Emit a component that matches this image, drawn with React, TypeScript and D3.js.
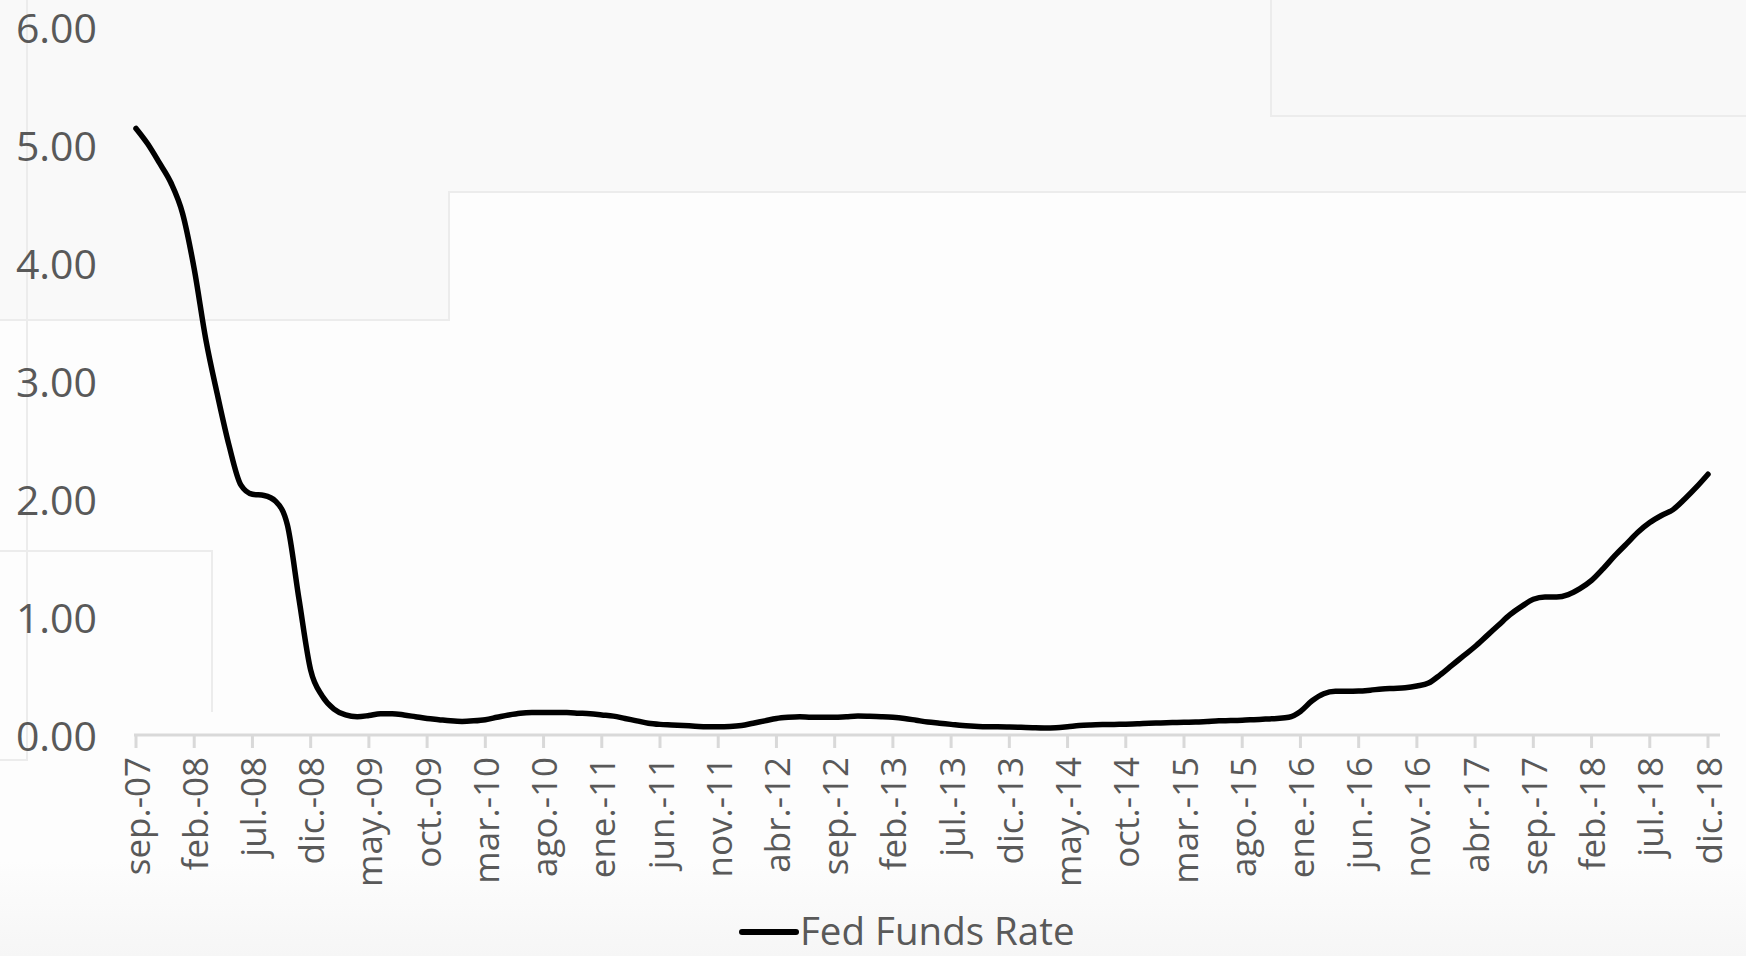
import React from "react";
import * as d3 from "d3";

const months = ["ene.", "feb.", "mar.", "abr.", "may.", "jun.", "jul.", "ago.", "sep.", "oct.", "nov.", "dic."];

const startYear = 2007;
const startMonth = 8; // sep

const fedFunds: number[] = [
  5.14, 5.01, 4.85, 4.68, 4.42, 3.95, 3.35, 2.88, 2.45, 2.12, 2.04, 2.03, 1.98, 1.78, 1.15, 0.55,
  0.33, 0.22, 0.17, 0.155, 0.165, 0.18, 0.18, 0.17, 0.155, 0.14, 0.13, 0.12,
  0.115, 0.12, 0.13, 0.15, 0.17, 0.185, 0.19, 0.19, 0.19, 0.19, 0.185, 0.18,
  0.17, 0.16, 0.14, 0.12, 0.10, 0.09, 0.085, 0.08, 0.075, 0.07, 0.07, 0.072,
  0.08, 0.10, 0.12, 0.14, 0.15, 0.155, 0.15, 0.15, 0.15, 0.155, 0.16, 0.158,
  0.155, 0.15, 0.14, 0.125, 0.11, 0.10, 0.09, 0.08, 0.075, 0.07, 0.07, 0.068,
  0.065, 0.062, 0.06, 0.062, 0.07, 0.08, 0.085, 0.088, 0.09, 0.092, 0.095, 0.10,
  0.102, 0.105, 0.108, 0.11, 0.115, 0.12, 0.122, 0.125, 0.13, 0.135, 0.14, 0.15,
  0.20, 0.29, 0.35, 0.37, 0.37, 0.372, 0.38, 0.39, 0.395, 0.40, 0.415, 0.44,
  0.51, 0.59, 0.67, 0.75, 0.84, 0.93, 1.02, 1.09, 1.15, 1.17, 1.17, 1.19,
  1.24, 1.31, 1.41, 1.52, 1.62, 1.72, 1.80, 1.86, 1.91, 2.00, 2.10, 2.21,
];

const categories: string[] = fedFunds.map((_, i) => {
  const m = (startMonth + i) % 12;
  const y = startYear + Math.floor((startMonth + i) / 12);
  return `${months[m]}-${String(y % 100).padStart(2, "0")}`;
});

const yTicks = [0, 1, 2, 3, 4, 5, 6];
const tickEvery = 5;
const seriesName = "Fed Funds Rate";

const W = 1746;
const H = 956;
const FONT = "'Open Sans', 'Noto Sans', sans-serif";
const TEXT = "#595959";

export default function App() {
  const x = d3.scalePoint<string>().domain(categories).range([136, 1708]);
  const y = d3.scaleLinear().domain([0, 6]).range([735, 27]);

  const line = d3
    .line<number>()
    .x((_, i) => x(categories[i]) as number)
    .y((d) => y(d))
    .curve(d3.curveMonotoneX);

  const tickCats = categories.filter((_, i) => i % tickEvery === 0);

  return (
    <svg
      width={W}
      height={H}
      style={{ position: "absolute", left: 0, top: 0, display: "block" }}
    >
      <defs>
        <linearGradient id="bottomFade" x1="0" y1="0" x2="0" y2="1">
          <stop offset="0" stopColor="#fdfdfd" />
          <stop offset="1" stopColor="#f6f6f6" />
        </linearGradient>
      </defs>
      {/* background artifacts */}
      <rect x={0} y={0} width={W} height={H} fill="#fdfdfd" />
      <path d={`M0,0 H${W} V192 H449 V320 H0 Z`} fill="#f9f9f9" />
      <path d={`M1271,0 H${W} V116 H1271 Z`} fill="#f8f8f8" />
      <rect x={0} y={860} width={W} height={96} fill="url(#bottomFade)" />
      <g stroke="#ececec" strokeWidth={2} fill="none">
        <path d="M0,320 H449 V192 H1746" />
        <path d="M1271,0 V116 H1746" />
        <path d="M0,551 H212 V712" />
        <path d="M27,0 V760 H0" />
      </g>

      {/* y axis labels */}
      <g fontFamily={FONT} fontSize={41} fill={TEXT}>
        {yTicks.map((t) => (
          <text key={t} x={97} y={y(t)} textAnchor="end" dominantBaseline="central">
            {t.toFixed(2)}
          </text>
        ))}
      </g>

      {/* x axis */}
      <line x1={134} x2={1720} y1={735} y2={735} stroke="#d9d9d9" strokeWidth={3} />
      {tickCats.map((c) => (
        <line
          key={c}
          x1={x(c)}
          x2={x(c)}
          y1={735}
          y2={748}
          stroke="#d9d9d9"
          strokeWidth={3}
        />
      ))}
      <g fontFamily={FONT} fontSize={35} fill={TEXT}>
        {tickCats.map((c) => (
          <text
            key={c}
            transform={`translate(${x(c)},757) rotate(-90)`}
            textAnchor="end"
            dominantBaseline="central"
          >
            {c}
          </text>
        ))}
      </g>

      {/* series */}
      <path
        d={line(fedFunds) || ""}
        fill="none"
        stroke="#000"
        strokeWidth={5.5}
        strokeLinejoin="round"
        strokeLinecap="round"
      />

      {/* legend */}
      <line x1={742} x2={796} y1={932} y2={932} stroke="#000" strokeWidth={6} strokeLinecap="round" />
      <text x={800} y={930} fontFamily={FONT} fontSize={38.5} fill={TEXT} dominantBaseline="central">
        {seriesName}
      </text>
    </svg>
  );
}
